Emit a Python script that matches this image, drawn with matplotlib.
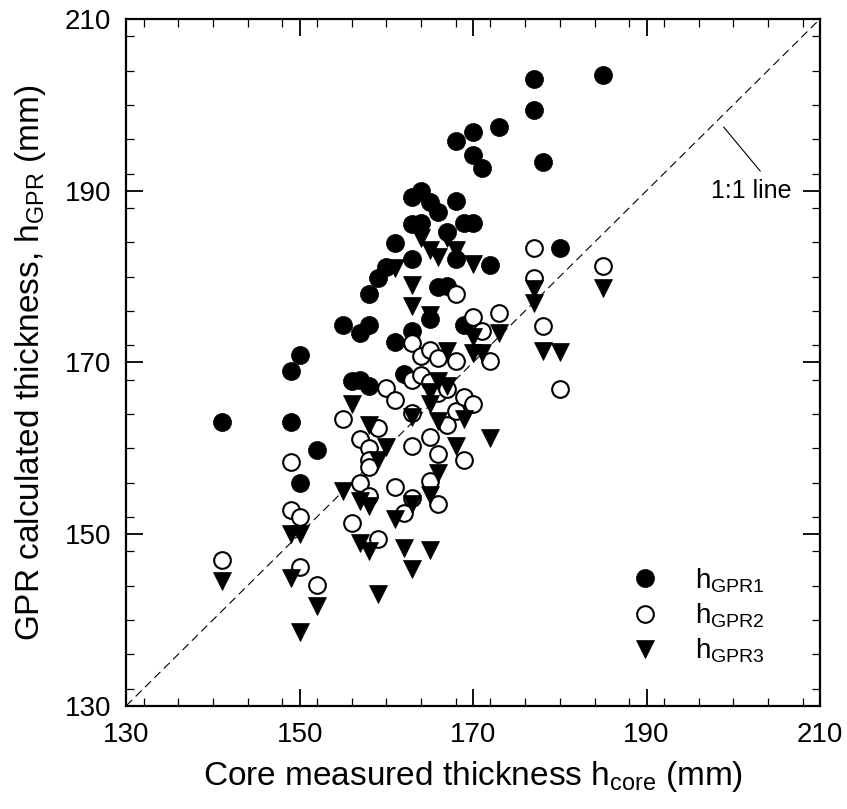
import matplotlib
matplotlib.use("Agg")
import matplotlib.pyplot as plt
from matplotlib.ticker import MultipleLocator

plt.rcParams['font.family'] = ['Liberation Sans', 'DejaVu Sans']
plt.rcParams['mathtext.fontset'] = 'custom'
plt.rcParams['mathtext.rm'] = 'Liberation Sans'
plt.rcParams['mathtext.it'] = 'Liberation Sans:italic'
plt.rcParams['lines.scale_dashes'] = False

# h_GPR1 (filled circles)
core1 = [141, 149, 149, 150, 150, 152, 155, 156, 157, 158, 157, 158, 158, 159, 160,
         161, 161, 162, 163, 163, 163, 163, 164, 164, 165, 165, 166, 166, 167, 167,
         168, 168, 168, 169, 169, 170, 170, 170, 171, 172, 173, 177, 177, 178, 180, 185]
gpr1 = [163.0, 169.0, 163.0, 170.9, 155.9, 159.8, 174.3, 167.8, 167.9, 167.3, 173.4, 174.4, 178.0, 179.8, 181.1,
        183.9, 172.4, 168.6, 189.3, 186.1, 182.0, 173.6, 190.0, 186.2, 188.7, 175.0, 187.5, 178.8, 178.9, 185.2,
        195.8, 188.8, 182.0, 174.4, 186.2, 196.8, 194.2, 186.2, 192.6, 181.3, 197.4, 203.0, 199.4, 193.3, 183.3, 203.5]

# h_GPR2 (open circles)
core2 = [141, 149, 149, 150, 150, 152, 155, 156, 157, 157, 158, 158, 158, 158, 159,
         159, 160, 161, 161, 162, 163, 163, 163, 163, 163, 164, 164, 165, 165, 165,
         165, 166, 166, 166, 166, 167, 167, 168, 168, 168, 169, 169, 170, 170, 171,
         172, 173, 177, 177, 178, 180, 185]
gpr2 = [147.0, 158.4, 152.8, 152.0, 146.1, 144.1, 163.4, 151.3, 161.1, 155.9, 160.0, 158.6, 157.8, 154.4, 162.3,
        149.4, 167.0, 165.6, 155.5, 152.4, 172.2, 168.0, 164.1, 160.2, 154.2, 170.7, 168.5, 171.4, 167.7, 161.3,
        156.2, 170.5, 166.4, 159.3, 153.5, 162.7, 166.9, 178.0, 170.1, 164.3, 166.0, 158.6, 175.3, 165.2, 173.7,
        170.1, 175.8, 183.3, 179.8, 174.2, 166.9, 181.2]

# h_GPR3 (filled triangles)
core3 = [141, 149, 149, 150, 150, 152, 155, 156, 157, 158, 157, 158, 158, 159, 159,
         160, 161, 161, 162, 163, 163, 163, 163, 163, 164, 165, 165, 165, 165, 165,
         165, 166, 166, 166, 166, 167, 167, 167, 168, 168, 169, 170, 170, 170, 171,
         172, 173, 177, 177, 178, 180, 185]
gpr3 = [144.5, 144.9, 150.0, 150.0, 138.6, 141.6, 155.0, 165.1, 153.9, 153.3, 148.9, 148.0, 162.7, 158.6, 143.0,
        160.1, 181.0, 151.7, 148.4, 179.0, 176.6, 163.6, 153.5, 145.9, 184.5, 183.1, 175.5, 166.5, 165.2, 154.5,
        148.1, 182.3, 167.8, 163.2, 157.1, 184.5, 171.3, 167.2, 183.1, 160.2, 163.4, 181.5, 172.9, 171.1, 171.1,
        161.2, 173.4, 178.6, 176.9, 171.3, 171.2, 178.7]

axis_min, axis_max = 130, 210
major_ticks = [130, 150, 170, 190, 210]

fig = plt.figure(figsize=(8.47, 8.09), dpi=100)
ax = fig.add_axes([0.1491, 0.1277, 0.8190, 0.8488])

# 1:1 reference line
ax.plot([axis_min, axis_max], [axis_min, axis_max], color='black', lw=0.8,
        dashes=(6, 3.5), zorder=1)

ax.plot(core1, gpr1, linestyle='none', marker='o', ms=13, mfc='black', mec='black',
        mew=0.5, label=r'h$_{\mathrm{GPR1}}$', zorder=3)
ax.plot(core2, gpr2, linestyle='none', marker='o', ms=12, mfc='white', mec='black',
        mew=1.5, label=r'h$_{\mathrm{GPR2}}$', zorder=3)
ax.plot(core3, gpr3, linestyle='none', marker='v', ms=12.5, mfc='black', mec='black',
        mew=0.5, label=r'h$_{\mathrm{GPR3}}$', zorder=3)

ax.set_xlim(axis_min, axis_max)
ax.set_ylim(axis_min, axis_max)
ax.set_xticks(major_ticks)
ax.set_yticks(major_ticks)
ax.xaxis.set_minor_locator(MultipleLocator(4))
ax.yaxis.set_minor_locator(MultipleLocator(4))
ax.tick_params(which='both', direction='in', top=True, right=True,
               labelsize=20, color='black')
ax.tick_params(axis='x', which='major', pad=12)
ax.tick_params(axis='y', which='major', pad=11)
ax.tick_params(which='major', length=12, width=1.3)
ax.tick_params(which='minor', length=6, width=0.9)
for sp in ax.spines.values():
    sp.set_linewidth(1.6)

ax.set_xlabel(r'Core measured thickness h$_{\mathrm{core}}$ (mm)', fontsize=24, labelpad=8)
ax.set_ylabel(r'GPR calculated thickness, h$_{\mathrm{GPR}}$ (mm)', fontsize=24, labelpad=12)

# annotation of the reference line
ax.plot([198.9, 203.1], [197.4, 192.3], color='black', lw=0.8, zorder=2)
ax.text(206.7, 190, '1:1 line', fontsize=18, ha='right', va='center')

ax.legend(loc='lower left', bbox_to_anchor=(0.712, 0.043), frameon=False, fontsize=20,
          handletextpad=1.3, labelspacing=0.24, borderaxespad=0.0, numpoints=1,
          handlelength=1.0)

fig.savefig('out.png', dpi=100)
